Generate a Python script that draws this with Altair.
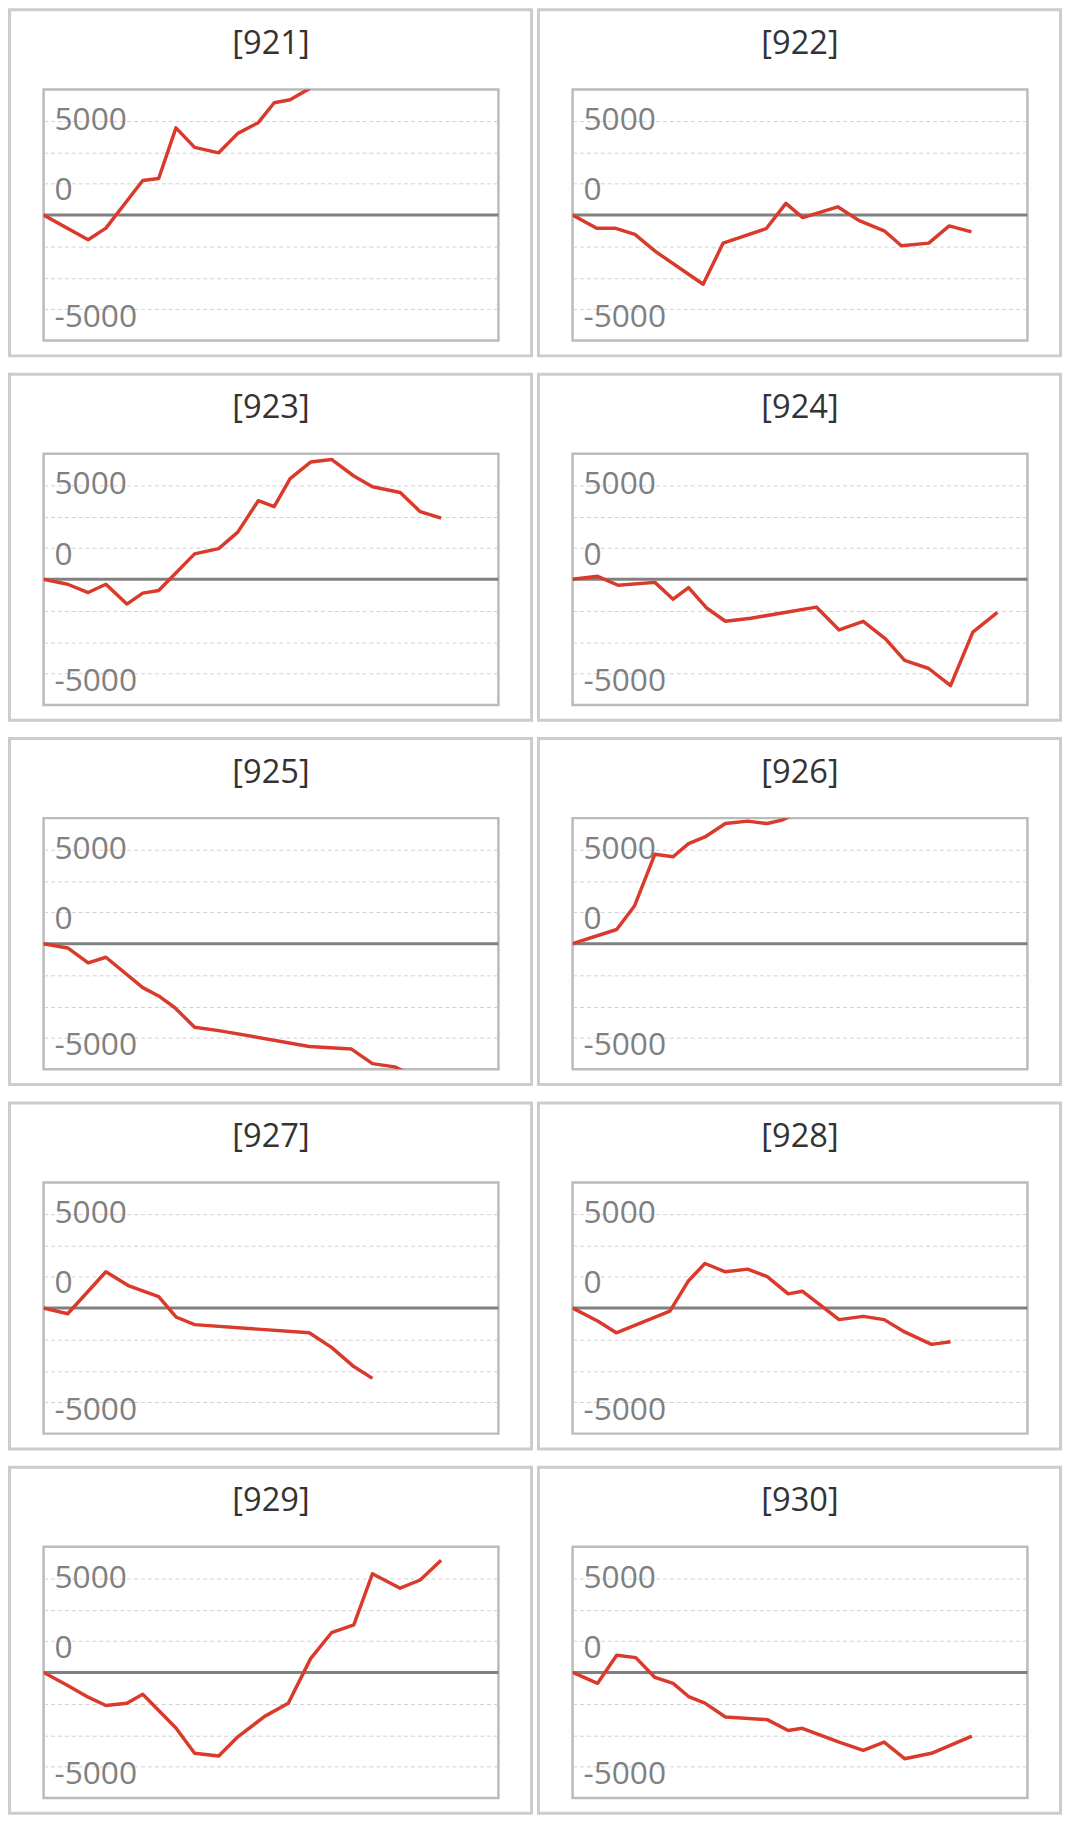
import altair as alt
import pandas as pd

panel_ids = ["921", "922", "923", "924", "925", "926", "927", "928", "929", "930"]

x921 = [0, 9.8, 13.7, 21.8, 25.3, 29.1, 33.2, 38.5, 42.7, 47.2, 50.7, 54.2, 58.6]
y921 = [0, -1970, -1050, 2750, 2900, 6940, 5380, 4950, 6500, 7350, 8940, 9180, 10100]

x922 = [0, 5.3, 9.5, 13.7, 18.2, 28.7, 33.1, 42.6, 46.9, 50.6, 58.3, 62.9, 68.5, 72.3, 78.3, 82.8, 87.7]
y922 = [0, -1060, -1060, -1550, -2900, -5520, -2240, -1080, 920, -210, 650, -430, -1260, -2450, -2240, -870, -1340]

x923 = [0, 5.3, 9.8, 13.7, 18.3, 21.8, 25.3, 33.2, 38.5, 42.7, 47.2, 50.7, 54.2, 58.7, 63.3, 68.2, 72.3, 78.4, 82.8, 87.4]
y923 = [0, -390, -1050, -390, -1970, -1100, -890, 2030, 2450, 3760, 6260, 5790, 8020, 9340, 9550, 8230, 7370, 6920, 5390, 4870]

x924 = [0, 5.5, 10.0, 18.1, 22.1, 25.5, 29.4, 33.6, 39.2, 53.6, 58.6, 63.9, 68.8, 73.0, 78.3, 83.1, 88.0, 93.4]
y924 = [0, 240, -470, -240, -1580, -660, -2260, -3340, -3100, -2210, -4030, -3340, -4740, -6450, -7100, -8470, -4210, -2630]

x925 = [0, 5.3, 9.8, 13.7, 21.8, 25.3, 28.8, 33.2, 38.5, 58.4, 67.7, 72.3, 77.2, 80.0]
y925 = [0, -340, -1530, -1080, -3500, -4160, -5080, -6650, -6920, -8180, -8390, -9550, -9810, -10300]

x926 = [0, 9.7, 13.6, 18.1, 22.1, 25.5, 29.1, 33.6, 38.5, 42.8, 46.0, 50.0]
y926 = [0, 1130, 3000, 7130, 6920, 7970, 8500, 9570, 9760, 9570, 9840, 10500]

x927 = [0, 5.3, 13.7, 18.6, 25.3, 29.1, 33.2, 58.4, 63.3, 68.2, 72.3]
y927 = [0, -450, 2890, 1790, 920, -710, -1320, -1970, -3130, -4660, -5600]

x928 = [0, 5.5, 9.6, 21.4, 25.5, 29.1, 33.6, 38.5, 42.8, 47.4, 50.5, 58.6, 63.9, 68.5, 73.0, 78.9, 83.1]
y928 = [0, -1030, -1970, -240, 2180, 3550, 2890, 3100, 2500, 1130, 1340, -920, -660, -920, -1900, -2890, -2680]

x929 = [0, 5.3, 9.8, 13.7, 18.3, 21.8, 29.1, 33.2, 38.5, 42.7, 48.6, 53.8, 58.7, 63.3, 68.2, 72.3, 78.4, 82.8, 87.4]
y929 = [0, -1050, -1970, -2630, -2450, -1740, -4420, -6440, -6650, -5130, -3500, -2450, 1100, 3160, 3790, 7860, 6710, 7360, 8940]

x930 = [0, 5.5, 9.7, 13.9, 18.1, 22.1, 25.5, 29.1, 33.6, 42.8, 47.4, 50.5, 58.6, 63.9, 68.5, 73.0, 78.9, 87.8]
y930 = [0, -870, 1370, 1180, -400, -870, -1920, -2450, -3550, -3760, -4630, -4450, -5550, -6210, -5550, -6870, -6440, -5080]

tick_labels = ["5000", "0", "-5000"]
tick_label_pos = [7550, 1950, -8100]
grid_values = [-7500, -5000, -2500, 2500, 5000, 7500]

series = {
    "921": (x921, y921), "922": (x922, y922), "923": (x923, y923),
    "924": (x924, y924), "925": (x925, y925), "926": (x926, y926),
    "927": (x927, y927), "928": (x928, y928), "929": (x929, y929),
    "930": (x930, y930),
}

W, H = 460, 254
FONT = "Open Sans"

xsc = alt.Scale(domain=[0, 100], nice=False, zero=False)
ysc = alt.Scale(domain=[-10000, 10000], nice=False, zero=False)
yax = alt.Axis(values=grid_values, grid=True, gridColor="#d0d0d0", gridDash=[4, 3],
               gridWidth=1, labels=False, ticks=False, domain=False, title=None)


def panel(pid):
    xs, ys = series[pid]
    df = pd.DataFrame({"x": xs, "v": ys})
    border = alt.Chart(pd.DataFrame({"k": [0]})).mark_rect(
        fillOpacity=0, stroke="#cccccc", strokeWidth=3
    ).encode(
        x=alt.value(-34.5), x2=alt.value(W + 33.5),
        y=alt.value(-80.5), y2=alt.value(H + 15.5),
    )
    title = alt.Chart(pd.DataFrame({"t": ["[" + pid + "]"]})).mark_text(
        align="center", baseline="middle", fontSize=33, font=FONT, color="#333333"
    ).encode(x=alt.value(W / 2), y=alt.value(-46), text="t:N")
    zero = alt.Chart(pd.DataFrame({"v": [0]})).mark_rule(
        color="#808080", strokeWidth=3
    ).encode(y=alt.Y("v:Q", scale=ysc, axis=yax))
    labels = alt.Chart(pd.DataFrame({"t": tick_labels, "v": tick_label_pos})).mark_text(
        align="left", baseline="middle", fontSize=32, font=FONT, color="#808080"
    ).encode(x=alt.value(11), y=alt.Y("v:Q", scale=ysc, axis=yax), text="t:N")
    line = alt.Chart(df).mark_line(
        color="#d93a2b", strokeWidth=3.5, clip=True, strokeJoin="round"
    ).encode(
        x=alt.X("x:Q", scale=xsc, axis=None),
        y=alt.Y("v:Q", scale=ysc, axis=yax),
        order="x:Q",
    )
    return alt.layer(border, title, zero, labels, line).properties(width=W, height=H)


rows = []
for i in range(0, 10, 2):
    rows.append(alt.hconcat(panel(panel_ids[i]), panel(panel_ids[i + 1]), spacing=0))

chart = alt.vconcat(*rows, spacing=11.5).properties(
    padding={"top": -12, "left": -2, "right": 0, "bottom": 0}, background="white"
).configure_view(stroke="#bbbbbb", strokeWidth=2.5)

chart.save("out.html", embed_options={"renderer": "svg", "actions": False})
